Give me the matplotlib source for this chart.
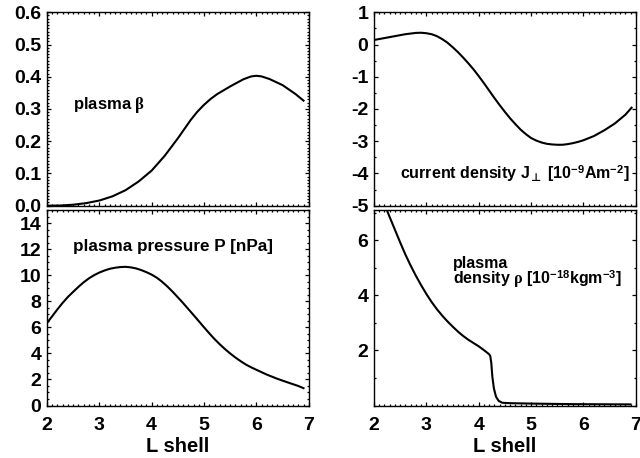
import matplotlib
matplotlib.use("Agg")
import matplotlib.pyplot as plt
from matplotlib.ticker import MultipleLocator, NullFormatter

plt.rcParams['font.family'] = ['Liberation Sans', 'DejaVu Sans']
plt.rcParams['font.weight'] = 'bold'
plt.rcParams['axes.unicode_minus'] = False
plt.rcParams['mathtext.fontset'] = 'custom'
plt.rcParams['mathtext.rm'] = 'Liberation Serif'
plt.rcParams['mathtext.it'] = 'Liberation Serif:italic'
plt.rcParams['mathtext.bf'] = 'Liberation Sans:bold'
plt.rcParams['mathtext.sf'] = 'DejaVu Sans'

# plasma beta vs L shell
beta_L = [2.0, 2.25, 2.5, 2.75, 3.0, 3.25, 3.5, 3.75, 4.0, 4.25, 4.5, 4.75, 4.875, 5.0,
          5.125, 5.25, 5.5, 5.75, 5.9, 6.0, 6.1, 6.25, 6.5, 6.75, 6.9]
beta = [0.0, 0.0005, 0.003, 0.008, 0.016, 0.029, 0.048, 0.075, 0.109, 0.155, 0.209, 0.267,
        0.292, 0.313, 0.331, 0.346, 0.370, 0.392, 0.401, 0.403, 0.401, 0.393, 0.374, 0.346,
        0.326]

# current density J_perp
cur_L = [2.0, 2.2, 2.4, 2.6, 2.8, 2.9, 3.0, 3.1, 3.2, 3.3, 3.4, 3.5, 3.6, 3.7, 3.8, 3.9,
         4.0, 4.1, 4.2, 4.3, 4.4, 4.5, 4.6, 4.7, 4.8, 4.9, 5.0, 5.1, 5.2, 5.3, 5.4, 5.5,
         5.6, 5.7, 5.8, 5.9, 6.0, 6.2, 6.4, 6.6, 6.8, 6.92]
cur = [0.14, 0.20, 0.26, 0.32, 0.36, 0.365, 0.35, 0.32, 0.26, 0.17, 0.06, -0.08, -0.23,
       -0.40, -0.58, -0.77, -0.98, -1.20, -1.43, -1.66, -1.88, -2.09, -2.29, -2.47, -2.64,
       -2.78, -2.90, -2.98, -3.04, -3.08, -3.10, -3.11, -3.11, -3.09, -3.06, -3.02, -2.97,
       -2.84, -2.66, -2.45, -2.18, -1.96]

# plasma pressure P [nPa]
pres_L = [2.0, 2.1, 2.2, 2.3, 2.4, 2.5, 2.6, 2.7, 2.8, 2.9, 3.0, 3.1, 3.2, 3.3, 3.4, 3.5,
          3.6, 3.7, 3.8, 3.9, 4.0, 4.1, 4.2, 4.3, 4.4, 4.5, 4.6, 4.7, 4.8, 4.9, 5.0, 5.1,
          5.2, 5.3, 5.4, 5.5, 5.6, 5.7, 5.8, 5.9, 6.0, 6.2, 6.4, 6.6, 6.8, 6.9]
pres = [6.33, 6.85, 7.38, 7.88, 8.33, 8.72, 9.10, 9.45, 9.75, 10.00, 10.20, 10.36, 10.49,
        10.57, 10.62, 10.64, 10.60, 10.52, 10.39, 10.23, 10.04, 9.80, 9.49, 9.13, 8.73,
        8.30, 7.86, 7.40, 6.94, 6.47, 6.00, 5.54, 5.10, 4.70, 4.33, 3.99, 3.68, 3.40,
        3.14, 2.93, 2.74, 2.37, 2.05, 1.77, 1.50, 1.33]

# plasma density rho [1e-18 kg m^-3]
dens_L = [2.0, 2.1, 2.2, 2.3, 2.4, 2.5, 2.6, 2.7, 2.8, 2.9, 3.0, 3.1, 3.2, 3.3, 3.4, 3.5,
          3.6, 3.7, 3.8, 3.9, 4.0, 4.1, 4.2, 4.22, 4.24, 4.26, 4.29, 4.33, 4.38, 4.45,
          4.6, 5.0, 5.8, 6.9]
dens = [8.30, 7.80, 7.31, 6.84, 6.38, 5.92, 5.48, 5.08, 4.71, 4.37, 4.05, 3.76, 3.50,
        3.27, 3.06, 2.87, 2.69, 2.53, 2.39, 2.27, 2.15, 2.01, 1.86, 1.80, 1.55, 1.05,
        0.62, 0.32, 0.17, 0.10, 0.085, 0.07, 0.05, 0.04]

fig = plt.figure(figsize=(6.4, 4.58), dpi=100)

lx, rx, w = 0.0734, 0.5844, 0.409
ty, th = 0.5509, 0.4223
by, bh = 0.1146, 0.4269

ax_b = fig.add_axes([lx, ty, w, th])
ax_j = fig.add_axes([rx, ty, w, th])
ax_p = fig.add_axes([lx, by, w, bh])
ax_d = fig.add_axes([rx, by, w, bh])

ax_b.plot(beta_L, beta, color='black', lw=1.5)
ax_j.plot(cur_L, cur, color='black', lw=1.5)
ax_p.plot(pres_L, pres, color='black', lw=1.5)
ax_d.plot(dens_L, dens, color='black', lw=1.5)

ax_b.set_ylim(0, 0.6)
ax_b.set_yticks([0, 0.1, 0.2, 0.3, 0.4, 0.5, 0.6])
ax_b.set_yticklabels(['0.0', '0.1', '0.2', '0.3', '0.4', '0.5', '0.6'])
ax_b.yaxis.set_minor_locator(MultipleLocator(0.01))

ax_j.set_ylim(-5, 1)
ax_j.yaxis.set_major_locator(MultipleLocator(1))
ax_j.yaxis.set_minor_locator(MultipleLocator(0.5))

ax_p.set_ylim(0, 15)
ax_p.set_yticks([0, 2, 4, 6, 8, 10, 12, 14])
ax_p.yaxis.set_minor_locator(MultipleLocator(0.5))

ax_d.set_ylim(0, 7.1)
ax_d.set_yticks([2, 4, 6])
ax_d.yaxis.set_minor_locator(MultipleLocator(1))

for ax in [ax_b, ax_j, ax_p, ax_d]:
    ax.set_xlim(2, 7)
    ax.set_xticks([2, 3, 4, 5, 6, 7])
    ax.xaxis.set_minor_locator(MultipleLocator(0.1))
    ax.tick_params(which='both', direction='in', top=True, right=True, width=0.9)
    ax.tick_params(which='major', length=3.2)
    ax.tick_params(which='minor', length=1.6)
    ax.tick_params(axis='y', labelsize=14, pad=4)
    ax.tick_params(axis='x', labelsize=14, pad=8)
    for s in ax.spines.values():
        s.set_linewidth(1.0)

for ax in [ax_b, ax_j]:
    ax.xaxis.set_major_formatter(NullFormatter())

for ax in [ax_p, ax_d]:
    ax.set_xlabel('L shell', fontsize=14.5, fontweight='bold', labelpad=2.5)

ax_b.text(2.5, 0.313, 'plasma $\\mathrm{\\beta}$', fontsize=12, va='center')
ax_j.text(2.5, -4.0, 'current density J$_{\\mathsf{\\bot}}$ [10$^{\\mathbf{-9}}$Am$^{\\mathbf{-2}}$]',
          fontsize=11.5, va='center')
ax_p.text(2.5, 12.2, 'plasma pressure P [nPa]', fontsize=12.3, va='center')
ax_d.text(3.5, 4.8, 'plasma\ndensity $\\mathrm{\\rho}$ [10$^{\\mathbf{-18}}$kgm$^{\\mathbf{-3}}$]',
          fontsize=11.5, va='center', linespacing=0.8)

fig.savefig('out.png', dpi=100)
